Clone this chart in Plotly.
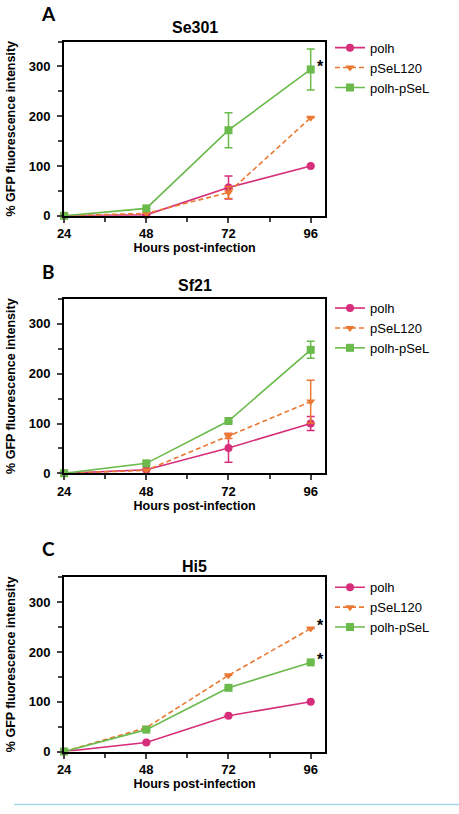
import plotly.graph_objects as go

hours = [24, 48, 72, 96]
series_names = ["polh", "pSeL120", "polh-pSeL"]

# Panel A: Se301
se301_polh = [0, 2, 57, 100]
se301_polh_err = [0, 0, 23, 0]
se301_psel120 = [0, 5, 47, 197]
se301_psel120_err = [0, 0, 12, 0]
se301_polhpsel = [0, 15, 172, 294]
se301_polhpsel_err = [0, 0, 35, 41]

# Panel B: Sf21
sf21_polh = [0, 7, 51, 100]
sf21_polh_err = [0, 0, 29, 14]
sf21_psel120 = [0, 6, 75, 144]
sf21_psel120_err = [0, 0, 5, 43]
sf21_polhpsel = [0, 20, 105, 248]
sf21_polhpsel_err = [0, 0, 0, 17]

# Panel C: Hi5
hi5_polh = [0, 18, 72, 100]
hi5_polh_err = [0, 0, 0, 0]
hi5_psel120 = [0, 48, 153, 247]
hi5_psel120_err = [0, 0, 0, 0]
hi5_polhpsel = [0, 44, 128, 179]
hi5_polhpsel_err = [0, 0, 0, 0]

panel_titles = ["Se301", "Sf21", "Hi5"]
panel_letters = ["A", "B", "C"]
y_ticks = [0, 100, 200, 300]
x_title = "Hours post-infection"
y_title = "% GFP fluorescence intensity"

colors = ["#d62e7a", "#ea7832", "#6aba4c"]
symbols = ["circle", "triangle-down", "square"]
dashes = ["solid", "5px,3px", "solid"]

W, H = 459, 814
FONT = "Liberation Sans, Arial, sans-serif"

def py(px):
    return 1 - px / H

def px_(x):
    return x / W

# pixel geometry per panel: (top, bottom)
panel_px = [(42, 218), (302, 478), (583, 759)]
xdom = [px_(58), px_(323)]
legend_tops = [33, 296, 578]
title_y = [28, 288, 572]
letter_y = [14, 274, 554]

panels = [
    ([se301_polh, se301_psel120, se301_polhpsel],
     [se301_polh_err, se301_psel120_err, se301_polhpsel_err], [2]),
    ([sf21_polh, sf21_psel120, sf21_polhpsel],
     [sf21_polh_err, sf21_psel120_err, sf21_polhpsel_err], []),
    ([hi5_polh, hi5_psel120, hi5_polhpsel],
     [hi5_polh_err, hi5_psel120_err, hi5_polhpsel_err], [1, 2]),
]

fig = go.Figure()
annotations = []
layout = {}
for p, (vals, errs, stars) in enumerate(panels):
    sfx = "" if p == 0 else str(p + 1)
    lg = "legend" if p == 0 else "legend" + str(p + 1)
    for i in range(3):
        fig.add_trace(go.Scatter(
            x=hours, y=vals[i], name=series_names[i],
            xaxis="x" + sfx, yaxis="y" + sfx, legend=lg,
            mode="lines+markers", cliponaxis=False,
            line=dict(color=colors[i], width=1.6, dash=dashes[i]),
            marker=dict(symbol=symbols[i], size=8, color=colors[i]),
            error_y=dict(type="data", array=errs[i], visible=True,
                         color=colors[i], thickness=1.5, width=4),
        ))
    for s in stars:
        annotations.append(dict(
            x=hours[-1], y=vals[s][-1], xref="x" + sfx, yref="y" + sfx,
            text="<b>*</b>", showarrow=False, xshift=10, yshift=3,
            font=dict(size=16, color="black", family=FONT)))
    top, bot = panel_px[p]
    layout["xaxis" + sfx] = dict(
        domain=xdom, anchor="y" + sfx, range=[24, 100.2],
        tickvals=hours, ticks="outside", ticklen=5, tickwidth=1.5,
        showline=True, linewidth=2, linecolor="black", mirror=True,
        showgrid=False, zeroline=False,
        minor=dict(tick0=24, dtick=12, ticks="outside", ticklen=4, tickwidth=1.5, showgrid=False),
        tickfont=dict(size=13, family=FONT, color="black", weight="bold"),
        title=dict(text="<b>" + x_title + "</b>", standoff=2,
                   font=dict(size=12.5, family=FONT, color="black")),
    )
    layout["yaxis" + sfx] = dict(
        domain=[py(bot), py(top)], anchor="x" + sfx, range=[0, 350],
        tickvals=y_ticks, ticks="outside", ticklen=5, tickwidth=1.5,
        ticklabelstandoff=4,
        showline=True, linewidth=2, linecolor="black", mirror=True,
        showgrid=False, zeroline=False,
        minor=dict(tick0=0, dtick=50, ticks="outside", ticklen=4, tickwidth=1.5, showgrid=False),
        tickfont=dict(size=13, family=FONT, color="black", weight="bold"),
        title=dict(text="<b>" + y_title + "</b>", standoff=10,
                   font=dict(size=12.5, family=FONT, color="black")),
    )
    layout[lg] = dict(
        x=px_(328), xanchor="left", y=py(legend_tops[p]), yanchor="top",
        font=dict(size=13, family=FONT, color="black"),
        bgcolor="rgba(0,0,0,0)", tracegroupgap=0, itemwidth=30,
    )
    annotations.append(dict(
        x=px_(190.5), y=py(title_y[p]), xref="paper", yref="paper",
        text="<b>" + panel_titles[p] + "</b>", showarrow=False,
        xanchor="center", yanchor="middle",
        font=dict(size=16, family=FONT, color="black")))
    annotations.append(dict(
        x=px_(42), y=py(letter_y[p]), xref="paper", yref="paper",
        text="<b>" + panel_letters[p] + "</b>", showarrow=False,
        xanchor="center", yanchor="middle",
        font=dict(size=19, family="Lato, " + FONT, color="black")))

fig.update_layout(
    width=W, height=H, margin=dict(l=0, r=0, t=0, b=0),
    paper_bgcolor="white", plot_bgcolor="white",
    showlegend=True, annotations=annotations,
    shapes=[dict(type="line", xref="paper", yref="paper",
                 x0=px_(7), x1=1, y0=py(812.5), y1=py(812.5),
                 line=dict(color="#a9d6e5", width=1.5))],
    **layout,
)

fig.write_html("out.html")
